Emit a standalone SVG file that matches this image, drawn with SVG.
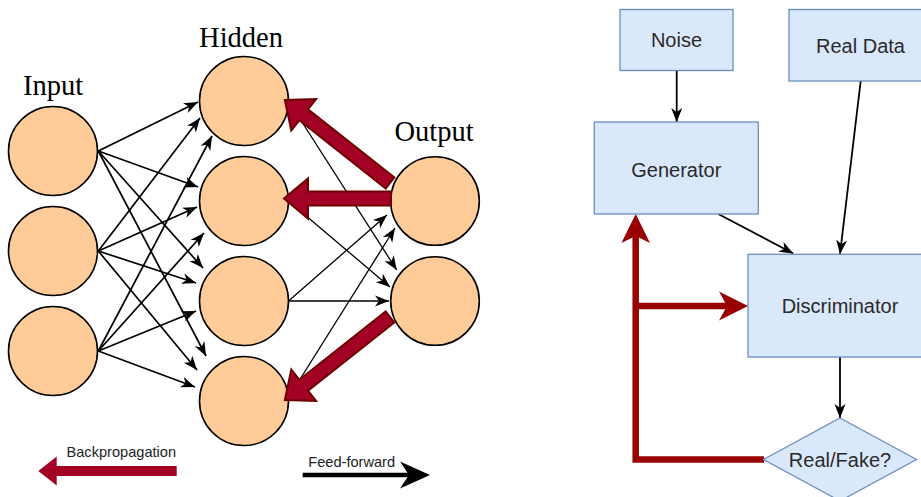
<svg xmlns="http://www.w3.org/2000/svg" width="921" height="497" viewBox="0 0 921 497">
<style>
.neuron{fill:#ffcc99;stroke:#000;stroke-width:1.6}
.lbl{font-family:"Liberation Serif","Times New Roman",serif;font-size:28.5px;fill:#000;text-anchor:middle}
.edge{fill:none;stroke:#000;stroke-width:1.7}
.edge2{fill:none;stroke:#000;stroke-width:1.3}
.flex{fill:#a20025;stroke:#6f0000;stroke-width:2;stroke-linejoin:miter}
.box{fill:#dae8fc;stroke:#6c8ebf;stroke-width:1.3}
.btxt{font-family:"Liberation Sans",Arial,Helvetica,sans-serif;font-size:20px;fill:#2a2a2a;text-anchor:middle}
.leg{font-family:"Liberation Sans",Arial,Helvetica,sans-serif;font-size:14.6px;fill:#222}
.conn{fill:none;stroke:#000;stroke-width:1.8}
.red{fill:none;stroke:#990000;stroke-width:6.5;stroke-linejoin:miter}
</style>
<defs>
<marker id="ah" viewBox="-15 -7 16 14" markerWidth="16" markerHeight="14" refX="0" refY="0" orient="auto" markerUnits="userSpaceOnUse">
<path d="M0,0 L-14,-5.5 L-10,0 L-14,5.5 Z" fill="#000"/>
</marker>
</defs>

<g id="connectors">
<line class="edge" x1="98.3" y1="151" x2="198" y2="102" marker-end="url(#ah)"/>
<line class="edge" x1="98.3" y1="251" x2="200" y2="118" marker-end="url(#ah)"/>
<line class="edge" x1="98.3" y1="351" x2="212" y2="136" marker-end="url(#ah)"/>
<line class="edge" x1="98.3" y1="151" x2="198" y2="187" marker-end="url(#ah)"/>
<line class="edge" x1="98.3" y1="251" x2="197" y2="207" marker-end="url(#ah)"/>
<line class="edge" x1="98.3" y1="351" x2="204" y2="233" marker-end="url(#ah)"/>
<line class="edge" x1="98.3" y1="151" x2="203" y2="268" marker-end="url(#ah)"/>
<line class="edge" x1="98.3" y1="251" x2="196" y2="283" marker-end="url(#ah)"/>
<line class="edge" x1="98.3" y1="351" x2="196" y2="311" marker-end="url(#ah)"/>
<line class="edge" x1="98.3" y1="151" x2="206" y2="356" marker-end="url(#ah)"/>
<line class="edge" x1="98.3" y1="251" x2="197" y2="370" marker-end="url(#ah)"/>
<line class="edge" x1="98.3" y1="351" x2="195" y2="387" marker-end="url(#ah)"/>
<line class="edge2" x1="288.5" y1="101" x2="396.7" y2="270" marker-end="url(#ah)"/>
<line class="edge2" x1="288.5" y1="201" x2="390" y2="287" marker-end="url(#ah)"/>
<line class="edge2" x1="288.5" y1="301" x2="387" y2="215" marker-end="url(#ah)"/>
<line class="edge2" x1="288.5" y1="301" x2="389" y2="301" marker-end="url(#ah)"/>
<line class="edge2" x1="287" y1="400" x2="395" y2="228" marker-end="url(#ah)"/>
</g>

<g id="input-label"><text class="lbl" x="53" y="95">Input</text></g>
<g id="hidden-label"><text class="lbl" x="241" y="47">Hidden</text></g>
<g id="output-label"><text class="lbl" x="434" y="141">Output</text></g>

<g id="in1"><circle class="neuron" cx="53" cy="151" r="44.5"/></g>
<g id="in2"><circle class="neuron" cx="53" cy="251" r="44.5"/></g>
<g id="in3"><circle class="neuron" cx="53" cy="351" r="44.5"/></g>
<g id="h1"><circle class="neuron" cx="244" cy="101" r="44.5"/></g>
<g id="h2"><circle class="neuron" cx="244" cy="201" r="44.5"/></g>
<g id="h3"><circle class="neuron" cx="244" cy="301" r="44.5"/></g>
<g id="h4"><circle class="neuron" cx="244" cy="401" r="44.5"/></g>
<g id="out1"><circle class="neuron" cx="435" cy="201" r="44.3"/></g>
<g id="out2"><circle class="neuron" cx="435" cy="301" r="44.3"/></g>

<g id="backprop-arrows">
<polygon class="flex" transform="translate(390,183) rotate(218.3)" points="0,-7 110,-7 110,-20 134,0 110,20 110,7 0,7"/>
<polygon class="flex" transform="translate(391,198.5) rotate(180)" points="0,-7 83,-7 83,-20 107,0 83,20 83,7 0,7"/>
<polygon class="flex" transform="translate(390,317) rotate(141.7)" points="0,-7 110,-7 110,-20 134,0 110,20 110,7 0,7"/>
</g>

<g id="legend-backprop">
<polygon fill="#a20025" points="176.7,466 56.7,466 56.7,456.5 38.3,471 56.7,485.5 56.7,476 176.7,476"/>
<text class="leg" x="66.5" y="457.3">Backpropagation</text>
</g>
<g id="legend-feedforward">
<line x1="302.7" y1="475" x2="410" y2="475" stroke="#000" stroke-width="4.5"/>
<polygon fill="#000" points="430,475 400,461.5 409,475 400,488.5"/>
<text class="leg" x="308.3" y="467.3">Feed-forward</text>
</g>

<g id="gan-connectors">
<line class="conn" x1="676.7" y1="70.7" x2="676.7" y2="122" marker-end="url(#ah)"/>
<line class="conn" x1="718.3" y1="214" x2="793.3" y2="253.5" marker-end="url(#ah)"/>
<line class="conn" x1="860.7" y1="81" x2="840" y2="254" marker-end="url(#ah)"/>
<line class="conn" x1="840" y1="357" x2="840" y2="418" marker-end="url(#ah)"/>
<path class="red" d="M764,459.5 H635.7 V236"/>
<polygon fill="#990000" points="635.7,214 650,243 635.7,236 621.4,243"/>
<path class="red" d="M635.7,306 H728"/>
<polygon fill="#990000" points="748,306 719,320.5 727,306 719,291.5"/>
</g>

<g id="noise"><rect class="box" x="620" y="9.5" width="113" height="61"/><text class="btxt" x="676.5" y="47">Noise</text></g>
<g id="realdata"><rect class="box" x="789" y="9.5" width="142" height="71.5"/><text class="btxt" x="860.5" y="53">Real Data</text></g>
<g id="generator"><rect class="box" x="594.3" y="122" width="164" height="92"/><text class="btxt" x="676.3" y="176.5">Generator</text></g>
<g id="discriminator"><rect class="box" x="748" y="254.3" width="184" height="102.7"/><text class="btxt" x="840" y="313">Discriminator</text></g>
<g id="realfake"><polygon class="box" points="840,418 916.5,459.5 840,501 763.5,459.5"/><text class="btxt" x="840" y="466.5">Real/Fake?</text></g>
</svg>
